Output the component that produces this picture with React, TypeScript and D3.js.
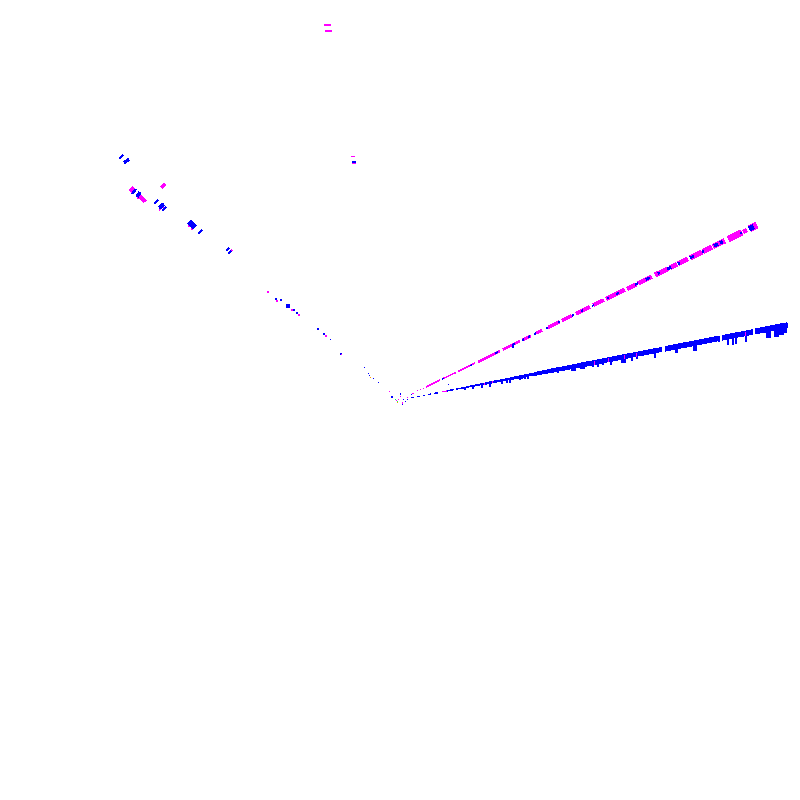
import React, { useRef, useEffect } from 'react';
import * as d3 from 'd3';

type Seg = number[]; // x0, y0, x1, y1, weight
type Pt = number[]; // x, y, weight

const BLUE = '#0000ff';
const MAGENTA = '#ff00ff';
const GREEN = '#00ff66';
const ORANGE = '#ff9900';

// lower ray, long run
const lowerBlue: Seg[] = [
  [11, 2.1, 14, 2.7, 1.2], [17, 3.3, 20, 3.9, 1.2], [23, 4.4, 25, 4.8, 1.5], [28, 5.4, 31, 6, 1.5],
  [34, 6.6, 38, 7.3, 1.5], [47, 9.1, 54, 10.4, 1.5], [56, 10.8, 70, 13.5, 1.5],
  [70, 13.5, 85, 16.4, 2], [85, 16.4, 110, 21.2, 2.5], [110, 21.2, 135, 26.1, 3], [135, 26.1, 150, 29, 4], [150, 29, 180, 34.7, 4.5],
  [180, 34.7, 220, 42.5, 5], [220, 42.5, 262, 50.6, 5], [265, 51.1, 320, 61.8, 5.5], [322, 62.1, 353, 68.1, 5.5],
  [355, 68.5, 388, 74.9, 6],
];

const lowerDrops: Seg[] = [
  [65, 12.5, 65, 10, 1.5], [73, 14, 73, 11, 1.5], [82, 15.8, 82, 12.5, 1.5], [90, 17.4, 90, 13, 2],
  [102, 19.7, 102, 16, 2], [107, 20.7, 107, 17, 2], [110, 21.2, 110, 17, 2], [120, 23.2, 120, 20, 1.5],
  [122, 23.5, 122, 21, 1.5], [125, 24.1, 125, 21, 1.5], [128, 24.7, 128, 21, 1.5], [158, 30.5, 158, 27, 2], [173, 33.4, 173, 29, 5],
  [182, 35, 182, 31, 5], [193, 37.2, 193, 33, 2], [198, 38.2, 198, 33, 2], [203, 39.2, 203, 35, 2],
  [211, 40.7, 211, 35, 2], [223, 43, 223, 37, 5], [232, 44.8, 232, 39, 2], [237, 45.7, 237, 41, 2],
  [255, 49.2, 255, 42, 2], [276, 53.3, 276, 47, 3], [295, 57, 295, 49, 4], [319, 61.6, 319, 58, 2],
  [328, 63.3, 328, 55, 2], [333, 64.3, 333, 55, 2], [336, 64.8, 336, 56, 2], [346, 66.8, 346, 58, 2],
  [368, 71, 368, 62, 5], [376, 72.6, 376, 63, 5], [381, 73.5, 381, 65, 6], [385, 74.3, 385, 67, 4],
];

const lowerMagenta: Seg[] = [
  [42, 8.1, 47, 9.1, 1.2], [84, 17, 84, 15, 1], [92, 18.8, 92, 16.8, 1],
  [194, 39.5, 194, 35.5, 1], [208, 42.5, 208, 38.5, 1], [224, 45.5, 224, 41.5, 1], [236, 47.5, 236, 43.5, 1],
  [345, 68, 345, 64, 1],
];

// upper ray
const upperMagenta: Seg[] = [
  [12, 6, 14, 7, 1.2], [17, 9, 18, 9.5, 1.2], [20, 10, 21, 10.5, 1.2], [23, 11.5, 24, 12, 1.2], [26, 13, 40, 20, 1.5],
  [42, 21, 56, 27.5, 1.5], [58, 28.5, 75, 37, 2], [78, 38, 100, 49, 2.5], [103, 50.5, 120, 59, 3],
  [122, 59.8, 131, 64.2, 3], [136, 66.6, 142, 69.6, 3], [148, 72.5, 160, 78.4, 3.5], [162, 79.4, 172, 84.3, 3.5],
  [176, 86.2, 190, 93.1, 4], [193, 94.6, 204, 100, 4], [206, 100.9, 225, 110.3, 4.5], [227, 111.2, 236, 115.6, 4.5],
  [238, 116.6, 252, 123.5, 4.5], [255, 125, 268, 131.3, 5], [270, 132.3, 277, 135.7, 5], [278, 136.2, 288, 141.1, 5],
  [290, 142.1, 302, 148, 5.5], [303, 148.5, 312, 152.9, 5.5], [313, 153.4, 325, 159.3, 5.5], [328, 160.7, 342, 167.6, 6.5],
  [343, 168, 347, 170, 4.5], [350, 171.5, 357, 175, 7.5],
];

const upperBlue: Seg[] = [
  [42, 20.6, 44, 21.6, 1.5], [70, 34.3, 72, 35.3, 1.5], [95, 46.6, 98, 48, 2], [113, 55.4, 115, 56.4, 2],
  [122, 59.8, 124, 60.8, 2], [128, 62.7, 130, 63.7, 2], [134, 65.7, 136, 66.7, 2], [146, 71.5, 148, 72.5, 2], [158, 77.4, 160, 78.4, 2],
  [172, 84.3, 174, 85.3, 2], [181, 88.7, 183, 89.7, 2], [192, 94.1, 194, 95, 2], [207, 101.4, 209, 102.4, 2],
  [216, 105.8, 219, 107.3, 2], [235, 115.2, 238, 116.6, 2.5], [246, 120.5, 250, 122.5, 2.5], [258, 126.4, 260, 127.4, 2.5],
  [267, 130.8, 271, 132.8, 3], [278, 136.2, 280, 137.2, 3], [290, 142.1, 294, 144, 3], [302, 148, 304, 149, 3],
  [314, 153.9, 318, 155.8, 3.5], [320, 156.8, 323, 158.3, 3.5], [340, 166.6, 342, 167.6, 2], [349, 171, 354, 173.5, 5],
];

const upperDrops: Seg[] = [[113, 56, 113, 52.5, 2]];

// left arm
const leftBlue: Seg[] = [
  [-281, 241, -277, 245, 2.5], [-276, 237, -271, 241, 3.5], [-268, 206, -264, 211, 2.5], [-263, 203, -260, 208, 3.5],
  [-246, 196, -242, 200, 2.5], [-241, 192, -236, 196, 4], [-238, 189, -234, 193, 2], [-212, 175, -208, 179, 3.5],
  [-209, 172, -205, 176, 4.5], [-202, 166, -198, 170, 2.5], [-174, 149, -171, 152, 2.5], [-172, 146, -169, 149, 2.5],
];

const leftMagenta: Seg[] = [
  [-270, 208, -266, 212, 4.5], [-263, 201, -260, 204, 2.5], [-261, 205, -257, 200, 4.5], [-258, 202, -255, 198, 4.5],
  [-239, 212, -235, 216, 3], [-241, 190, -236, 194, 2], [-212, 173, -209, 176, 2], [-209, 170, -205, 174, 2],
  [-170, 148, -168, 150, 1.5],
];

// top flat marks
const topMagenta: Seg[] = [
  [-76, 375, -69, 375, 2], [-75, 369, -68, 369, 2], [-49, 243.8, -45, 243.8, 1], [-48, 236.4, -44, 236.4, 1],
];
const topBlue: Seg[] = [[-48, 237.8, -44, 237.8, 2.3]];

// small dots, left arm tail and near the centre
const blueDots: Pt[] = [
  [-124, 101, 2.5], [-119, 100, 2.5], [-112, 94, 3.5], [-106, 90, 2.5], [-103, 87, 2.5], [-82, 71, 2], [-76, 66, 2],
  [-70, 61, 1], [-59, 46, 1.5], [-36, 33, 1], [-32, 27, 1], [-31, 25, 1], [-27, 22, 1], [-22, 18, 1],
  [-8, 3, 2], [0, 7, 1], [0, 6, 1], [3, 1, 1], [2, -4, 1], [5, -1, 1], [7, 1, 1], [11, 6, 1], [48, 16, 1],
];
const magentaDots: Pt[] = [
  [-132, 108, 2], [-123, 99, 2], [-108, 90, 2.5], [-101, 85, 2.5], [-74, 64, 2], [-59, 46, 1], [-11, 9, 1],
  [0, 4, 1], [-4, 0, 1], [-2, 1, 1], [-3, -1, 1], [2, -2, 1], [2, -3, 1], [7, 3, 1], [13, 7, 1],
];
const greenDots: Pt[] = [[-5, 1, 1], [-3, -1, 1]];
const orangeDots: Pt[] = [[-30, 23, 1], [-3, -2, 1]];

const App: React.FC = () => {
  const ref = useRef<SVGSVGElement | null>(null);

  useEffect(() => {
    if (!ref.current) return;
    const svg = d3.select(ref.current);
    svg.selectAll('*').remove();

    const x = d3.scaleLinear().domain([-400, 400]).range([0, 800]);
    const y = d3.scaleLinear().domain([-400, 400]).range([800, 0]);
    const weight = d3.scaleLinear().domain([0, 1]).range([0, 1]);

    const line = d3.line<number[]>().x(d => x(d[0])).y(d => y(d[1]));

    const drawSegs = (segs: Seg[], color: string) => {
      svg.append('g')
        .selectAll('path')
        .data(segs)
        .join('path')
        .attr('d', d => line([[d[0], d[1]], [d[2], d[3]]]))
        .attr('fill', 'none')
        .attr('stroke', color)
        .attr('stroke-width', d => weight(d[4]));
    };

    const drawDots = (pts: Pt[], color: string) => {
      svg.append('g')
        .selectAll('rect')
        .data(pts)
        .join('rect')
        .attr('x', d => x(d[0]) - d[2] / 2)
        .attr('y', d => y(d[1]) - d[2] / 2)
        .attr('width', d => d[2])
        .attr('height', d => d[2])
        .attr('fill', color);
    };

    drawSegs(lowerBlue, BLUE);
    drawSegs(lowerDrops, BLUE);
    drawSegs(lowerMagenta, MAGENTA);
    drawSegs(upperMagenta, MAGENTA);
    drawSegs(upperBlue, BLUE);
    drawSegs(upperDrops, BLUE);
    drawSegs(leftMagenta, MAGENTA);
    drawSegs(leftBlue, BLUE);
    drawSegs(topMagenta, MAGENTA);
    drawSegs(topBlue, BLUE);
    drawDots(blueDots, BLUE);
    drawDots(magentaDots, MAGENTA);
    drawDots(greenDots, GREEN);
    drawDots(orangeDots, ORANGE);
  }, []);

  return (
    <svg
      ref={ref}
      width={800}
      height={800}
      shapeRendering="crispEdges"
      style={{ position: 'absolute', left: 0, top: 0, background: '#fff' }}
    />
  );
};

export default App;
